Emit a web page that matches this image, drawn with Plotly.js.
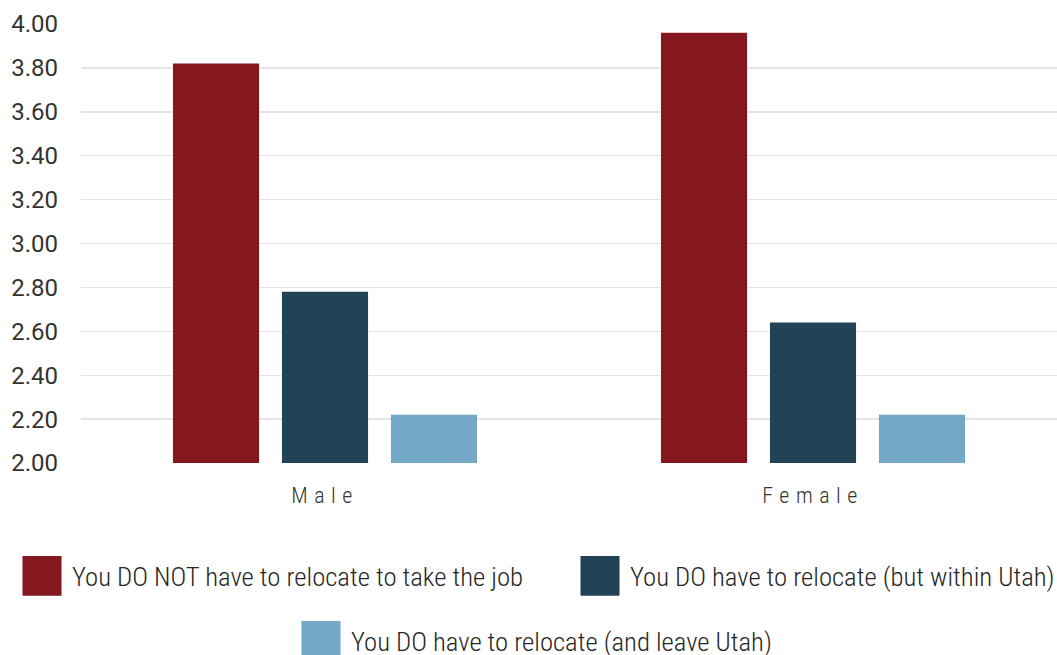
<!DOCTYPE html>
<html>
<head>
<meta charset="utf-8">
<script src="https://cdn.plot.ly/plotly-3.0.1.min.js"></script>
<style>
  html, body { margin: 0; padding: 0; background: #fff; }
  #chart { width: 1057px; height: 655px; }
  .xtick text { letter-spacing: 6.5px; }
  .legendpoints path { transform: translate(20px, 0px) scale(3.25, 3.3); }
</style>
</head>
<body>
<div id="chart"></div>
<script>
const categories = ["Male", "Female"];
const seriesNames = [
  "You DO NOT have to relocate to take the job",
  "You DO have to relocate (but within Utah)",
  "You DO have to relocate (and leave Utah)"
];
const notRelocate = [3.82, 3.96];
const relocateWithin = [2.78, 2.64];
const relocateLeave = [2.22, 2.22];
const yTicks = [2.0, 2.2, 2.4, 2.6, 2.8, 3.0, 3.2, 3.4, 3.6, 3.8, 4.0];
const colors = ["#85171e", "#224256", "#73a8c6"];

const values = [notRelocate, relocateWithin, relocateLeave];
const legends = ["legend", "legend2", "legend3"];

const traces = values.map((v, i) => ({
  type: "bar",
  x: categories,
  y: v,
  base: 0,
  name: seriesNames[i],
  marker: { color: colors[i], line: { width: 0 } },
  legend: legends[i],
  hoverinfo: "skip"
}));

const legendFont = { family: "Roboto Condensed, sans-serif", size: 26.7, weight: 300, color: "#262626" };

function legendAt(px, py) {
  return {
    orientation: "h",
    xref: "container",
    yref: "container",
    x: px / 1057,
    xanchor: "left",
    y: 1 - py / 655,
    yanchor: "middle",
    font: legendFont,
    itemwidth: 40,
    bgcolor: "rgba(0,0,0,0)",
    borderwidth: 0,
    itemclick: false,
    itemdoubleclick: false
  };
}

const layout = {
  width: 1057,
  height: 655,
  margin: { l: 81, r: 0, t: 24, b: 192 },
  paper_bgcolor: "#ffffff",
  plot_bgcolor: "#ffffff",
  barmode: "group",
  bargap: 0.33,
  bargroupgap: 0.21,
  font: { family: "Roboto, sans-serif", color: "#333333" },
  xaxis: {
    type: "category",
    showgrid: false,
    showline: false,
    zeroline: false,
    ticks: "",
    ticklabelstandoff: 17,
    tickfont: { family: "Roboto Condensed, sans-serif", size: 22, weight: 300, color: "#333333" }
  },
  yaxis: {
    range: [2, 4],
    tickvals: yTicks,
    ticktext: yTicks.map(t => t.toFixed(2)),
    showgrid: true,
    gridcolor: "#e6e6e6",
    gridwidth: 1.4,
    zeroline: false,
    showline: false,
    ticks: "",
    ticklabelstandoff: 22,
    tickfont: { family: "Roboto, sans-serif", size: 24, color: "#333333" }
  },
  showlegend: true,
  legend: legendAt(22, 576),
  legend2: legendAt(580, 576),
  legend3: legendAt(301, 641)
};

Plotly.newPlot("chart", traces, layout, { staticPlot: true, displayModeBar: false });
</script>
</body>
</html>
